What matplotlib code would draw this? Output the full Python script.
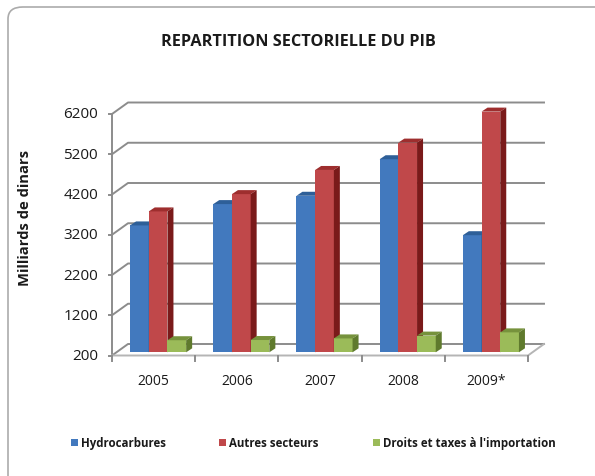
import matplotlib
matplotlib.use("Agg")
import matplotlib.pyplot as plt
from matplotlib.patches import Polygon, Rectangle, FancyBboxPatch
from matplotlib.lines import Line2D

# ---- data ----
categories = ["2005", "2006", "2007", "2008", "2009*"]
series_names = ["Hydrocarbures", "Autres secteurs", "Droits et taxes à l'importation"]
hydrocarbures = [3352, 3882, 4089, 4997, 3109]
autres_secteurs = [3700, 4130, 4730, 5410, 6180]
droits_taxes = [500, 505, 545, 615, 695]
y_ticks = [200, 1200, 2200, 3200, 4200, 5200, 6200]
title = "REPARTITION SECTORIELLE DU PIB"
y_label = "Milliards de dinars"

series = [hydrocarbures, autres_secteurs, droits_taxes]
front_cols = ["#4279BE", "#C0484A", "#9BBB59"]
top_cols = ["#2E5F98", "#9E2E2E", "#76923C"]
side_cols = ["#2A5488", "#7A1A1A", "#5F7A2D"]

FONT = "Open Sans"
W, H = 595, 477
fig = plt.figure(figsize=(W / 100, H / 100), dpi=100)

# frame (rounded, cropped at right/bottom)
frame = FancyBboxPatch((8 / W, 1 - 8 / H - 1.2), (620 - 8) / W, 1.2,
                       boxstyle="round,pad=0,rounding_size=0.025",
                       transform=fig.transFigure, fill=False,
                       edgecolor="#ABABAB", linewidth=1.2, clip_on=False)
fig.patches.append(frame)

# front plane of the plot in pixels
L, R, B, T = 112, 528, 356.5, 115
ax = fig.add_axes([L / W, 1 - B / H, (R - L) / W, (B - T) / H])
ax.set_xlim(0, len(categories))
ax.set_ylim(y_ticks[0], y_ticks[-1])
ax.axis("off")

sx = len(categories) / (R - L)                 # data per px (x)
sy = (y_ticks[-1] - y_ticks[0]) / (B - T)      # data per px (y)

back_dx, back_dy = 16 * sx, 11.5 * sy
plane_dx, plane_dy = 4.5 * sx, 3.2 * sy
dep_dx, dep_dy = 6 * sx, 4 * sy

grid_c = "#8C8C8C"
lw = 1.4
n = len(categories)
y0 = y_ticks[0]

# gridlines / back wall
for v in y_ticks:
    ax.add_line(Line2D([0, back_dx, n + back_dx], [v, v + back_dy, v + back_dy],
                       color=grid_c, lw=lw, clip_on=False, zorder=1))
    ax.add_line(Line2D([-3 * sx, 0], [v, v], color=grid_c, lw=lw, clip_on=False, zorder=1))
    ax.text(-14 * sx, v, f"{v}", ha="right", va="center", fontsize=11,
            family=FONT, color="#1a1a1a")
# front left axis
ax.add_line(Line2D([0, 0], [y0, y_ticks[-1]], color=grid_c, lw=lw, clip_on=False, zorder=1))
# floor front edge and right edge
ax.add_line(Line2D([0, n, n + back_dx], [y0, y0, y0 + back_dy],
                   color="#B5B5B5", lw=lw, clip_on=False, zorder=1))
for i in range(n + 1):
    ax.add_line(Line2D([i, i], [y0, y0 - 5 * sy], color=grid_c, lw=lw, clip_on=False, zorder=1))
for i, c in enumerate(categories):
    ax.text(i + 0.5, y0 - 25 * sy, c, ha="center", va="center", fontsize=10,
            family=FONT, color="#1a1a1a")

# bars
bw = 18.7 * sx
for i in range(n):
    start = i + 0.5 - 1.5 * bw + plane_dx
    for k, s in enumerate(series):
        v = s[i] + plane_dy
        b = y0 + plane_dy
        x0 = start + k * bw
        x1 = x0 + bw
        z = 5 + i * 3 + k
        ax.add_patch(Rectangle((x0, b), bw, v - b, facecolor=front_cols[k],
                               edgecolor="none", clip_on=False, zorder=z))
        ax.add_patch(Polygon([(x0, v), (x1, v), (x1 + dep_dx, v + dep_dy), (x0 + dep_dx, v + dep_dy)],
                             closed=True, facecolor=top_cols[k], edgecolor="none",
                             clip_on=False, zorder=z))
        ax.add_patch(Polygon([(x1, b), (x1, v), (x1 + dep_dx, v + dep_dy), (x1 + dep_dx, b + dep_dy)],
                             closed=True, facecolor=side_cols[k], edgecolor="none",
                             clip_on=False, zorder=z))

# title and y label
fig.text(298 / W, 1 - 42 / H, title, ha="center", va="center", fontsize=11.7,
         fontweight="bold", family=FONT, color="#1a1a1a")
fig.text(25 / W, 1 - 218 / H, y_label, ha="center", va="center", rotation=90,
         fontsize=10.6, fontweight="bold", family=FONT, color="#1a1a1a")

# legend
leg_sq = [70.7, 219.3, 373.3]
for k, name in enumerate(series_names):
    fig.patches.append(Rectangle((leg_sq[k] / W, 1 - 447 / H), 7 / W, 7 / H,
                                 transform=fig.transFigure, facecolor=front_cols[k],
                                 edgecolor="none"))
    fig.text((leg_sq[k] + 10) / W, 1 - 443.5 / H, name, ha="left", va="center",
             fontsize=8.3, fontweight="bold", family=FONT, color="#1a1a1a")

fig.savefig("out.png", dpi=100)
